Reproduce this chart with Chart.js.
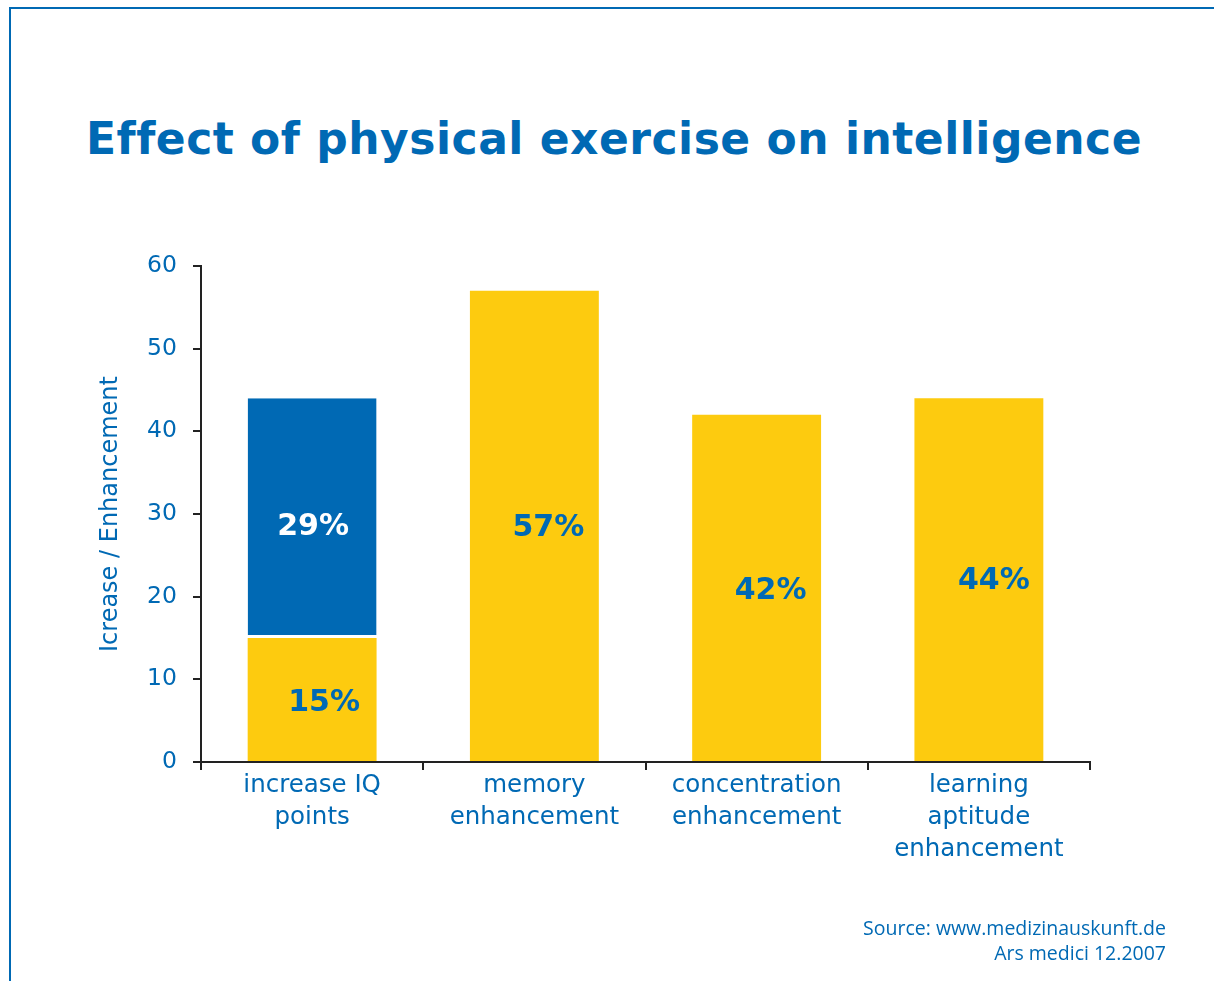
<!DOCTYPE html>
<html>
<head>
<meta charset="utf-8">
<script src="https://cdn.jsdelivr.net/npm/chart.js@4/dist/chart.umd.min.js"></script>
<style>
  html, body { margin: 0; padding: 0; background: #fff; }
  body { width: 1214px; height: 981px; position: relative; overflow: hidden; }
  #frame {
    position: absolute; left: 9px; top: 7px; right: 0; bottom: 0;
    border-top: 2px solid #0069b4; border-left: 2px solid #0069b4;
  }
  #titulo {
    position: absolute; left: 0; width: 1228px; top: 113px; text-align: center;
    font-family: "DejaVu Sans", sans-serif; font-weight: bold; font-size: 44px;
    color: #0069b4; letter-spacing: 0.5px;
  }
  #fonte {
    position: absolute; right: 48px; top: 915px; text-align: right;
    font-family: "Open Sans", sans-serif; font-size: 19.5px; line-height: 25px;
    color: #0069b4;
  }
  #wrap { position: absolute; left: 0; top: 0; width: 1214px; height: 981px; }
</style>
</head>
<body>
<div id="frame"></div>
<div id="titulo">Effect of physical exercise on intelligence</div>
<div id="wrap"><canvas id="grafico"></canvas></div>
<div id="fonte">Source: www.medizinauskunft.de<br>Ars medici 12.2007</div>
<script>
// categorias e valores
const categorias = [
  ['increase IQ', 'points'],
  ['memory', 'enhancement'],
  ['concentration', 'enhancement'],
  ['learning', 'aptitude', 'enhancement']
];
const valoresAmarelo = [15, 57, 42, 44];
const valoresAzul = [29, null, null, null];
const ticksY = [0, 10, 20, 30, 40, 50, 60];

const azul = '#0069b4';
const amarelo = '#fdcb0f';

// rótulos dentro das barras (deslocamentos em px)
const deslocX = [[12, 14, 14, 15], [1, 0, 0, 0]];
const deslocY = [[4, 2, 3, 2], [9, 0, 0, 0]];
const corRotulo = [azul, '#ffffff'];

const rotulosPlugin = {
  id: 'rotulos',
  afterDatasetsDraw(chart) {
    const ctx = chart.ctx;
    ctx.save();
    ctx.font = 'bold 30px "DejaVu Sans", sans-serif';
    ctx.textAlign = 'center';
    ctx.textBaseline = 'middle';
    chart.data.datasets.forEach(function(ds, i) {
      const meta = chart.getDatasetMeta(i);
      meta.data.forEach(function(bar, j) {
        const v = ds.data[j];
        if (v === null || v === undefined) return;
        const p = bar.getProps(['x', 'y', 'base'], true);
        ctx.fillStyle = corRotulo[i];
        ctx.fillText(v + '%', p.x + deslocX[i][j], (p.y + p.base) / 2 + deslocY[i][j]);
      });
    });
    ctx.restore();
  }
};

const ctx = document.getElementById('grafico').getContext('2d');
new Chart(ctx, {
  type: 'bar',
  data: {
    labels: categorias,
    datasets: [
      {
        data: valoresAmarelo,
        backgroundColor: amarelo,
        borderWidth: 0
      },
      {
        data: valoresAzul,
        backgroundColor: azul,
        borderColor: '#ffffff',
        borderWidth: { top: 0, left: 0, right: 0, bottom: 3 },
        borderSkipped: false
      }
    ]
  },
  options: {
    responsive: true,
    maintainAspectRatio: false,
    animation: false,
    layout: { padding: { left: 90, right: 124, top: 266, bottom: 89 } },
    datasets: { bar: { categoryPercentage: 1, barPercentage: 0.58 } },
    plugins: {
      legend: { display: false },
      tooltip: { enabled: false }
    },
    scales: {
      x: {
        stacked: true,
        afterFit: function(s) { s.height = 130; },
        border: { color: '#222', width: 2 },
        grid: { drawOnChartArea: false, tickLength: 8, color: '#222', lineWidth: 2, offset: true },
        ticks: {
          color: azul,
          padding: 0,
          font: { family: '"DejaVu Sans", sans-serif', size: 24.5, lineHeight: 1.3 }
        }
      },
      y: {
        stacked: true,
        min: 0,
        max: 60,
        afterFit: function(s) { s.width = 111; },
        afterBuildTicks: function(s) { s.ticks = ticksY.map(function(v) { return { value: v }; }); },
        border: { color: '#222', width: 2 },
        grid: { drawOnChartArea: false, tickLength: 8, color: '#222', lineWidth: 2 },
        ticks: {
          color: azul,
          padding: 16,
          font: { family: '"DejaVu Sans", sans-serif', size: 23.5 }
        },
        title: {
          display: true,
          text: 'Icrease / Enhancement',
          color: azul,
          padding: { top: 6, bottom: 0 },
          font: { family: '"DejaVu Sans", sans-serif', size: 24 }
        }
      }
    }
  },
  plugins: [rotulosPlugin]
});
</script>
</body>
</html>
